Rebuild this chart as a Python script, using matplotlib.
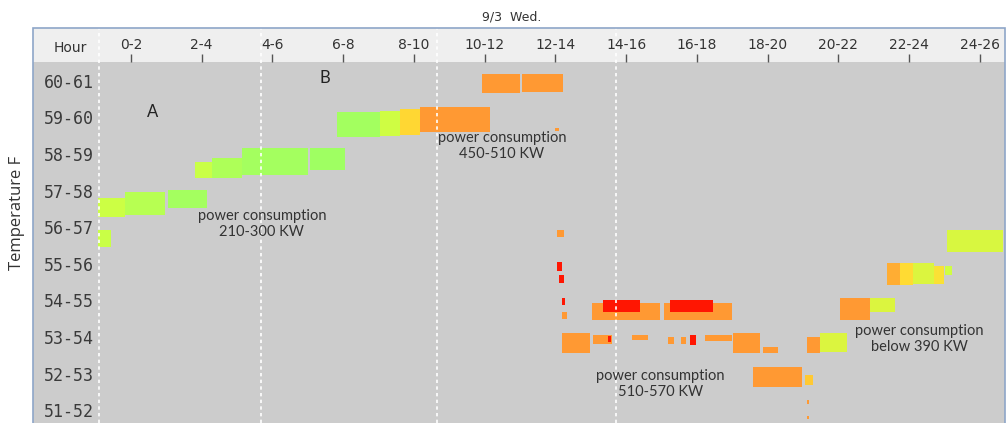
import numpy as np
import matplotlib
matplotlib.use('Agg')
import matplotlib.pyplot as plt
from matplotlib.colors import LinearSegmentedColormap, Normalize
from matplotlib.patches import Rectangle

# data: hour labels (2 h bins) and temperature bins
hour_mid = [1, 3, 5, 7, 9, 11, 13, 15, 17, 19, 21, 23, 25]
hour_labels = ['0-2', '2-4', '4-6', '6-8', '8-10', '10-12', '12-14',
               '14-16', '16-18', '18-20', '20-22', '22-24', '24-26']
temp_mid = [60.5, 59.5, 58.5, 57.5, 56.5, 55.5, 54.5, 53.5, 52.5, 51.5]
temp_labels = ['60-61', '59-60', '58-59', '57-58', '56-57',
               '55-56', '54-55', '53-54', '52-53', '51-52']

# operating blocks: start hour, end hour, temperature range, power (kW)
seg_start = [0.05, 0.05, 0.83, 2.05, 2.81, 3.30, 4.14, 6.06, 6.82, 8.04,
             8.60, 9.17, 10.92, 12.05, 13.00, 13.04, 13.05, 13.10, 13.18, 13.18,
             14.03, 16.07, 14.34, 16.24, 13.18, 14.06, 14.48, 15.16, 16.18, 16.55,
             16.80, 17.23, 18.02, 18.86, 18.58, 20.05, 20.10, 20.10, 20.11, 20.48,
             21.04, 21.89, 22.37, 22.75, 23.10, 23.70, 24.00, 24.07]
seg_end = [0.44, 0.83, 1.96, 3.15, 3.30, 4.14, 6.01, 7.05, 8.04, 8.60,
           9.17, 11.15, 12.00, 13.21, 13.10, 13.24, 13.20, 13.25, 13.27, 13.33,
           15.96, 17.99, 15.39, 17.45, 13.98, 14.60, 14.58, 15.62, 16.35, 16.70,
           16.98, 18.00, 18.78, 19.29, 19.97, 20.28, 20.18, 20.18, 20.48, 21.24,
           21.89, 22.60, 22.75, 23.10, 23.70, 23.98, 24.20, 25.65]
seg_tlow = [55.96, 56.78, 56.83, 57.02, 57.84, 57.84, 57.92, 58.06, 58.96, 58.98,
            59.02, 59.10, 60.17, 60.20, 59.12, 56.23, 55.30, 54.98, 54.38, 54.00,
            53.96, 53.96, 54.18, 54.18, 53.06, 53.30, 53.36, 53.41, 53.30, 53.32,
            53.28, 53.38, 53.06, 53.06, 52.14, 52.19, 51.68, 51.25, 53.06, 53.09,
            53.96, 54.18, 54.92, 54.92, 54.95, 54.95, 55.19, 55.82]
seg_thigh = [56.42, 57.30, 57.46, 57.51, 58.28, 58.40, 58.66, 58.66, 59.64, 59.66,
             59.72, 59.78, 60.69, 60.69, 59.22, 56.42, 55.55, 55.20, 54.57, 54.19,
             54.43, 54.43, 54.51, 54.51, 53.61, 53.55, 53.52, 53.55, 53.50, 53.50,
             53.55, 53.55, 53.61, 53.22, 52.68, 52.46, 51.78, 51.35, 53.50, 53.61,
             54.57, 54.57, 55.52, 55.52, 55.52, 55.45, 55.45, 56.42]
seg_kw = [290, 295, 255, 222, 290, 240, 222, 212, 220, 300,
          385, 470, 480, 480, 480, 520, 578, 578, 578, 530,
          530, 530, 578, 578, 530, 530, 578, 530, 530, 530,
          578, 530, 530, 530, 530, 400, 520, 520, 500, 320,
          490, 320, 430, 380, 320, 370, 300, 315]

W, H = 1006, 423
fig = plt.figure(figsize=(W / 100, H / 100), dpi=100)

# background of the chart box and the header row
fig.patches.append(Rectangle((33 / W, 0), 972 / W, 361 / H, transform=fig.transFigure,
                             facecolor='#cccccc', edgecolor='none', zorder=-5))
fig.patches.append(Rectangle((33 / W, 361 / H), 972 / W, 34 / H, transform=fig.transFigure,
                             facecolor='#efefef', edgecolor='none', zorder=-5))
fig.patches.append(Rectangle((33 / W, -0.01), 972 / W, 395 / H + 0.01, transform=fig.transFigure,
                             facecolor='none', edgecolor='#8ea6c8', lw=1.2, zorder=5))

ax = fig.add_axes([98 / W, 0, 907 / W, 361 / H])
ax.set_facecolor('none')

cmap = LinearSegmentedColormap.from_list('kw', [
    (0.0, '#99ff66'), (0.25, '#ccff44'), (0.47, '#ffdd33'),
    (0.66, '#ff9933'), (0.9, '#ff9933'), (1.0, '#ff1100')])
norm = Normalize(200, 580)

start = np.array(seg_start)
end = np.array(seg_end)
tlow = np.array(seg_tlow)
thigh = np.array(seg_thigh)
ax.bar(start, thigh - tlow, width=end - start, bottom=tlow, align='edge',
       color=cmap(norm(np.array(seg_kw))), linewidth=0, zorder=2)

# white dashed markers
for h in [0.1, 4.67, 9.65, 14.71]:
    ax.axvline(h, ymin=0, ymax=1 + 34 / 361, clip_on=False, color='white',
               lw=1.2, linestyle=(0, (2, 2)), zorder=3)

ax.set_xlim(0.07, 25.71)
ax.set_ylim(51.15, 61.01)
ax.xaxis.tick_top()
ax.set_xticks(hour_mid)
ax.set_xticklabels(hour_labels)
ax.tick_params(axis='x', length=6, width=1, color='#555555', pad=1,
               labelsize=10, labelcolor='#333333')
ax.set_yticks(temp_mid)
ax.set_yticklabels(temp_labels, fontfamily='DejaVu Sans Mono', fontsize=12)
ax.tick_params(axis='y', length=0, pad=3, labelcolor='#3a3a3a')
for s in ax.spines.values():
    s.set_visible(False)

fig.text(512 / W, 1 - 17 / H, '9/3  Wed.', ha='center', va='center',
         fontsize=9, color='#333333')
fig.text(70 / W, 1 - 48 / H, 'Hour', ha='center', va='center',
         fontsize=10, color='#333333')
fig.text(17 / W, 1 - 213 / H, 'Temperature F', rotation=90, ha='center',
         va='center', fontsize=12, family='Open Sans', color='#333333')

ax.text(1.62, 59.65, 'A', ha='center', va='center', fontsize=12,
        family='Lato', color='#222222')
ax.text(6.49, 60.58, 'B', ha='center', va='center', fontsize=12,
        family='Lato', color='#222222')
notes = [(4.70, 56.58, 'power consumption\n210-300 KW'),
         (11.49, 58.72, 'power consumption\n450-510 KW'),
         (15.96, 52.22, 'power consumption\n510-570 KW'),
         (23.30, 53.44, 'power consumption\nbelow 390 KW')]
for x, y, s in notes:
    ax.text(x, y, s, ha='center', va='center', fontsize=10.5, family='Lato',
            color='#333333', linespacing=1.2, zorder=4)

fig.savefig('out.png', dpi=100)
